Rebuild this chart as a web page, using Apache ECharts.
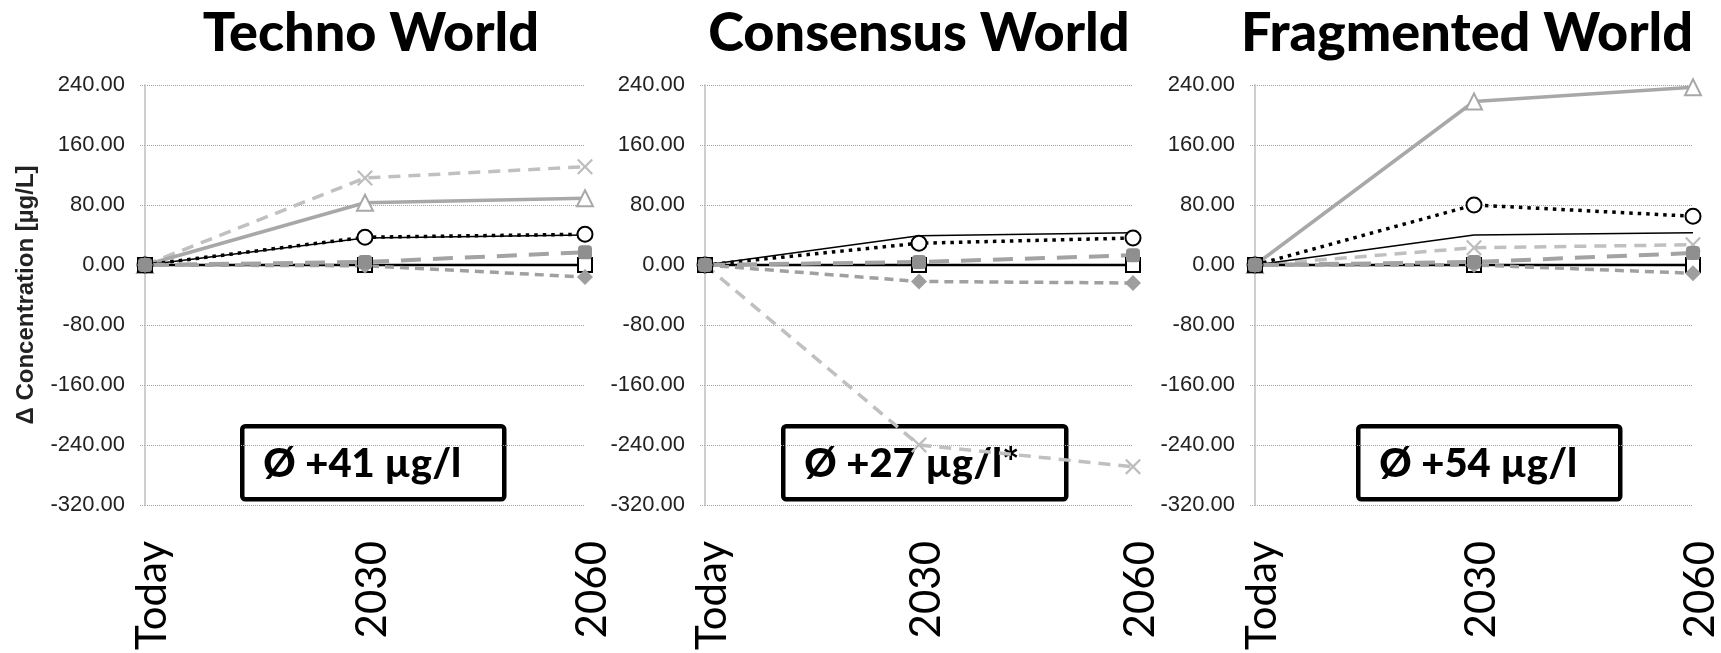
<!DOCTYPE html>
<html>
<head>
<meta charset="utf-8">
<script src="https://cdn.jsdelivr.net/npm/echarts@6/dist/echarts.min.js"></script>
<style>
  html, body { margin: 0; padding: 0; background: #fff; }
  #chart { width: 1721px; height: 653px; }
</style>
</head>
<body>
<div id="chart"></div>
<script>
// categories + panel texts
const categories = ['Today', '2030', '2060'];
const panelTitles = ['Techno World', 'Consensus World', 'Fragmented World'];
const averageLabels = ['Ø +41 µg/l', 'Ø +27 µg/l*', 'Ø +54 µg/l'];
const yAxisName = 'Δ Concentration [µg/L]';
const yMin = -320, yMax = 240, yStep = 80;

// one entry per panel: [Techno, Consensus, Fragmented]
const crossDashed   = [[0, 116, 131], [0, -240, -269], [0, 23, 27]];
const triangleSolid = [[0, 83, 89], [null, null, null], [0, 218, 237]];
const thinSolid     = [[0, 36, 40], [0, 39, 43], [0, 40, 43]];
const circleDotted  = [[0, 37, 41], [0, 29, 36], [0, 80, 65]];
const squareSolid   = [[0, 0, 0], [0, 0, 0], [0, 0, 0]];
const diamondDashed = [[0, -1, -16], [0, -22, -24], [0, 0, -11]];
const longDashed    = [[0, 4, 17], [0, 4, 13], [0, 4, 16]];

const chart = echarts.init(document.getElementById('chart'));

const grids = [
  { left: 145, width: 440 },
  { left: 705, width: 428 },
  { left: 1255, width: 439 }
];
const titleCenters = [366, 914, 1462];
const boxes = [
  { x: 240, w: 262 },
  { x: 781, w: 283 },
  { x: 1356, w: 262 }
];

const crossPath = 'path://M1,0 L5,4 L9,0 L10,1 L6,5 L10,9 L9,10 L5,6 L1,10 L0,9 L4,5 L0,1 Z';

const series = [];
grids.forEach((g, i) => {
  const base = { type: 'line', xAxisIndex: i, yAxisIndex: i, silent: true, animation: false };
  series.push(
    Object.assign({}, base, {
      data: crossDashed[i], symbol: crossPath, symbolSize: 16,
      itemStyle: { color: '#bdbdbd' },
      lineStyle: { color: '#c0c0c0', width: 3.5, type: [12, 8] }
    }),
    Object.assign({}, base, {
      data: triangleSolid[i], symbol: 'triangle', symbolSize: 16,
      itemStyle: { color: '#fff', borderColor: '#a8a8a8', borderWidth: 2 },
      lineStyle: { color: '#a8a8a8', width: 3.5 }
    }),
    Object.assign({}, base, {
      data: thinSolid[i], symbol: 'none',
      lineStyle: { color: '#000', width: 1.5 }
    }),
    Object.assign({}, base, {
      data: circleDotted[i], symbol: 'emptyCircle', symbolSize: 15,
      itemStyle: { color: '#000', borderWidth: 3 },
      lineStyle: { color: '#000', width: 3.5, type: [3.5, 5] }
    }),
    Object.assign({}, base, {
      data: squareSolid[i], symbol: 'emptyRect', symbolSize: 14,
      itemStyle: { color: '#000', borderWidth: 2 },
      lineStyle: { color: '#000', width: 2.5 }
    }),
    Object.assign({}, base, {
      data: diamondDashed[i], symbol: 'diamond', symbolSize: 16,
      itemStyle: { color: '#9e9e9e' },
      lineStyle: { color: '#a0a0a0', width: 3.5, type: [9, 6] }
    }),
    Object.assign({}, base, {
      data: longDashed[i], symbol: 'roundRect', symbolSize: 14,
      itemStyle: { color: '#8f8f8f' },
      lineStyle: { color: '#a3a3a3', width: 4, type: [20, 12] }
    })
  );
});

const option = {
  backgroundColor: '#fff',
  animation: false,
  title: panelTitles.map((t, i) => ({
    text: t,
    left: titleCenters[i],
    top: 2,
    textAlign: 'center',
    textStyle: { fontFamily: 'Lato', fontWeight: 900, fontSize: 54, color: '#000' }
  })),
  grid: grids.map(g => ({ left: g.left, width: g.width, top: 85, height: 420 })),
  xAxis: grids.map((g, i) => ({
    type: 'category',
    gridIndex: i,
    data: categories,
    boundaryGap: false,
    axisLine: { show: false },
    axisTick: { show: false },
    splitLine: { show: false },
    axisLabel: {
      rotate: 90,
      margin: 36,
      verticalAlign: 'top',
      lineHeight: 14,
      fontFamily: 'Lato',
      fontSize: 42,
      color: '#000'
    }
  })),
  yAxis: grids.map((g, i) => ({
    type: 'value',
    gridIndex: i,
    min: yMin,
    max: yMax,
    interval: yStep,
    name: i === 0 ? yAxisName : '',
    nameLocation: 'middle',
    nameRotate: 90,
    nameGap: 107,
    nameTextStyle: { fontFamily: 'Liberation Sans', fontWeight: 'bold', fontSize: 24, color: '#222' },
    axisLine: { show: true, lineStyle: { color: '#cfcfcf', width: 2 } },
    axisTick: { show: true, length: 5, lineStyle: { color: '#aaa', type: 'dotted' } },
    splitLine: { show: true, lineStyle: { color: '#a0a0a0', type: 'dotted', width: 1 } },
    axisLabel: {
      margin: 20,
      fontFamily: 'Liberation Sans',
      fontSize: 22,
      color: '#222',
      formatter: v => v.toFixed(2)
    }
  })),
  graphic: boxes.map((b, i) => ({
    type: 'group',
    left: b.x,
    top: 424,
    z: 100,
    children: [
      {
        type: 'rect',
        shape: { x: 0, y: 0, width: b.w, height: 73, r: 3 },
        style: { fill: '#fff', stroke: '#000', lineWidth: 4.5 }
      },
      {
        type: 'text',
        style: {
          x: 21, y: 38,
          text: averageLabels[i],
          verticalAlign: 'middle',
          font: '900 40px Lato',
          fill: '#000'
        }
      }
    ]
  })),
  series: series
};

chart.setOption(option);
</script>
</body>
</html>
